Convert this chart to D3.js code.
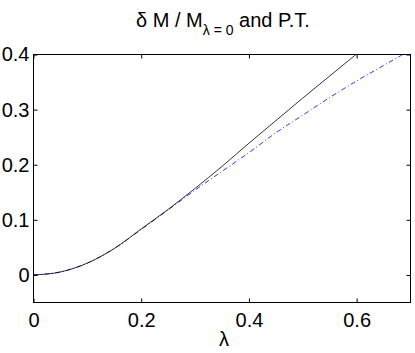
<!DOCTYPE html>
<html>
<head>
<meta charset="utf-8">
<script src="https://cdn.jsdelivr.net/npm/d3@7"></script>
<style>
  body { margin: 0; background: #fff; }
  svg { display: block; }
  text { font-family: "Liberation Sans", Arial, Helvetica, sans-serif; fill: #000; }
</style>
</head>
<body>
<svg id="chart" width="415" height="353"></svg>
<script>

// data
let lambda = [0, 0.05, 0.1, 0.15, 0.2, 0.25, 0.3, 0.35, 0.4, 0.45, 0.5, 0.55, 0.6];
let deltaM = [0, 0.0054, 0.0215, 0.048, 0.0835, 0.119, 0.157, 0.197, 0.239, 0.280, 0.321, 0.361, 0.401];

let lambdaPT = [0, 0.05, 0.1, 0.15, 0.2, 0.25, 0.3, 0.35, 0.4, 0.45, 0.5, 0.55, 0.6, 0.65, 0.7];
let deltaMPT = [0, 0.0054, 0.0215, 0.048, 0.0825, 0.118, 0.154, 0.188, 0.222, 0.258, 0.290, 0.322, 0.352, 0.380, 0.408];

let xTicks = [0, 0.2, 0.4, 0.6];
let yTicks = [0, 0.1, 0.2, 0.3, 0.4];


let svg = d3.select("#chart");

// plot box (pixel edges)
let boxL = 33.5, boxR = 410.5, boxT = 54.5, boxB = 302.5;

let x = d3.scaleLinear().domain([0, 0.7]).range([boxL, boxR]);
let y = d3.scaleLinear().domain([-0.05, 0.4]).range([boxB, boxT]);

// clip the curves to the axes box
svg.append("clipPath").attr("id", "box")
    .append("rect")
    .attr("x", boxL).attr("y", boxT)
    .attr("width", boxR - boxL).attr("height", boxB - boxT);

let line = d3.line()
    .x(d => x(d[0]))
    .y(d => y(d[1]))
    .curve(d3.curveMonotoneX);

let curves = svg.append("g").attr("clip-path", "url(#box)");

curves.append("path")
    .datum(lambdaPT.map((l, i) => [l, deltaMPT[i]]))
    .attr("d", line)
    .attr("fill", "none")
    .attr("stroke", "#0000ff")
    .attr("stroke-width", 0.8)
    .attr("stroke-dasharray", "5,2.5,1,2.5");

curves.append("path")
    .datum(lambda.map((l, i) => [l, deltaM[i]]))
    .attr("d", line)
    .attr("fill", "none")
    .attr("stroke", "#000")
    .attr("stroke-width", 0.8);

// axes: inward ticks on all four sides, labels only left/bottom
let tickLen = 4;

let styleAxis = (g) => {
    g.select(".domain").remove();
    g.selectAll(".tick line").attr("stroke", "#000");
    g.selectAll("text").style("font-size", "20px").attr("fill", "#000");
};

svg.append("g")
    .attr("transform", `translate(0,${boxB})`)
    .call(d3.axisBottom(x).tickValues(xTicks).tickFormat(d3.format("")).tickSizeInner(-tickLen).tickPadding(9))
    .call(styleAxis)
    .selectAll("text").attr("dy", "0.75em");

svg.append("g")
    .attr("transform", `translate(0,${boxT})`)
    .call(d3.axisTop(x).tickValues(xTicks).tickFormat("").tickSizeInner(-tickLen))
    .call(styleAxis);

svg.append("g")
    .attr("transform", `translate(${boxL},0)`)
    .call(d3.axisLeft(y).tickValues(yTicks).tickFormat(d3.format("")).tickSizeInner(-tickLen).tickPadding(4))
    .call(styleAxis);

svg.append("g")
    .attr("transform", `translate(${boxR},0)`)
    .call(d3.axisRight(y).tickValues(yTicks).tickFormat("").tickSizeInner(-tickLen))
    .call(styleAxis);

svg.append("rect")
    .attr("x", boxL).attr("y", boxT)
    .attr("width", boxR - boxL).attr("height", boxB - boxT)
    .attr("fill", "none")
    .attr("stroke", "#000")
    .attr("stroke-width", 1);

// title with subscript
let title = svg.append("text")
    .attr("x", (boxL + boxR) / 2 + 1)
    .attr("y", 27)
    .attr("text-anchor", "middle")
    .style("font-size", "20px");

title.append("tspan").text("δ M / M");
title.append("tspan").attr("dy", 8).style("font-size", "14px").text("λ = 0");
title.append("tspan").attr("dy", -8).text(" and P.T.");

// x label
svg.append("text")
    .attr("x", (boxL + boxR) / 2 + 2)
    .attr("y", 346)
    .attr("text-anchor", "middle")
    .style("font-size", "20px")
    .text("λ");

</script>
</body>
</html>
